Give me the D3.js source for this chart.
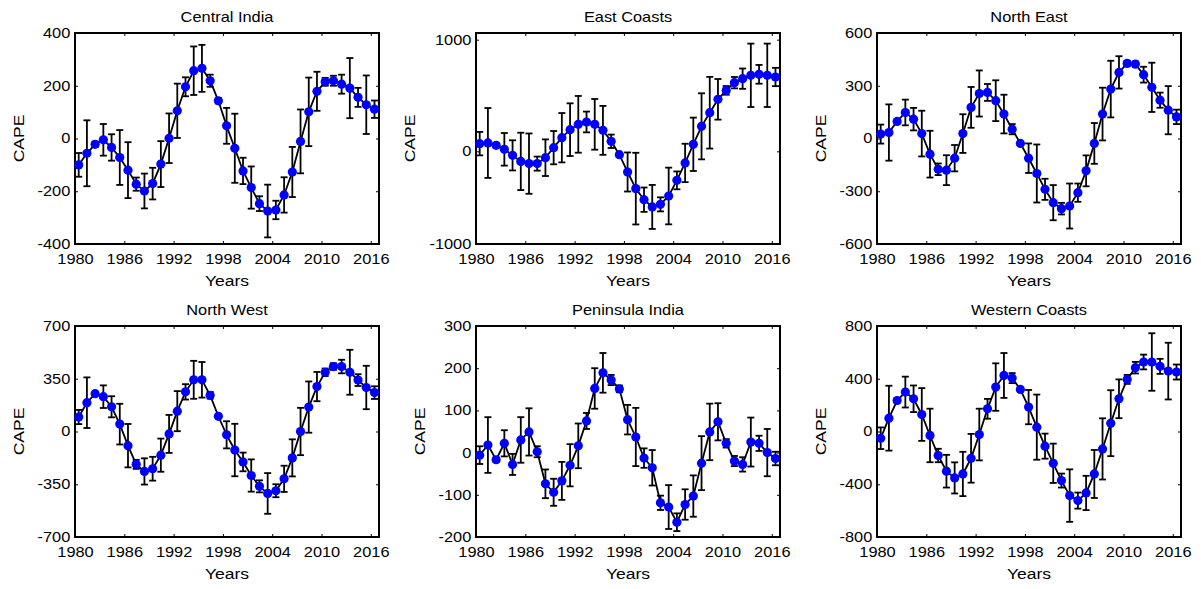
<!DOCTYPE html>
<html lang="en">
<head>
  <meta charset="UTF-8">
  <title>CAPE by region</title>
  <script src="https://d3js.org/d3.v7.min.js"></script>
  <style>
    body { margin: 0; background: #fff; }
    text { font-family: "Liberation Sans", Arial, sans-serif; fill: #000; }
    .tick line { stroke: #000; stroke-width: 1; }
  </style>
</head>
<body>
  <svg id="chart" width="1201" height="589"></svg>
  <script>
    // years 1980..2016, one mean per year
    const years = d3.range(1980, 2017);
    const xTicks = [1980, 1986, 1992, 1998, 2004, 2010, 2016];

    const titles = ["Central India", "East Coasts", "North East", "North West", "Peninsula India", "Western Coasts"];

    const centralIndia = [-100, -56, -22, -5, -34, -72, -120, -173, -199, -171, -97, 1, 105, 196, 257, 266, 219, 143, 48, -37,
      -123, -186, -247, -275, -271, -214, -127, -11, 101, 179, 215, 219, 206, 191, 156, 128, 111];
    const centralIndiaErr = [45, 125, 10, 60, 50, 104, 106, 25, 66, 60, 87, 94, 103, 36, 92, 89, 23, 10, 68, 131,
      50, 80, 28, 100, 35, 67, 95, 121, 130, 74, 15, 19, 36, 114, 36, 111, 33];

    const eastCoasts = [69, 75, 54, 18, -36, -90, -110, -110, -57, 33, 122, 194, 242, 263, 242, 188, 90, -30, -185, -334,
      -433, -498, -475, -400, -260, -104, 63, 224, 346, 466, 546, 615, 651, 681, 690, 681, 666];
    const eastCoastsErr = [105, 313, 20, 146, 135, 257, 270, 63, 164, 149, 221, 236, 254, 93, 227, 219, 60, 15, 175, 321,
      109, 197, 63, 254, 80, 172, 239, 296, 321, 182, 39, 51, 91, 284, 84, 284, 82];

    const northEast = [25, 34, 97, 148, 110, 28, -89, -175, -180, -112, 28, 177, 256, 262, 215, 139, 53, -28, -112, -199,
      -289, -365, -399, -384, -308, -184, -28, 139, 281, 376, 427, 423, 363, 291, 218, 161, 123];
    const northEastErr = [54, 160, 10, 73, 64, 130, 133, 33, 85, 75, 110, 116, 131, 48, 116, 110, 29, 10, 84, 165,
      60, 100, 33, 128, 52, 88, 116, 150, 161, 92, 15, 15, 45, 140, 43, 137, 41];

    const northWest = [96, 191, 251, 231, 164, 49, -94, -218, -265, -247, -157, -16, 135, 263, 343, 343, 240, 101, -22, -123,
      -202, -292, -364, -411, -393, -314, -175, 0, 162, 298, 393, 431, 431, 393, 341, 292, 258];
    const northWestErr = [47, 168, 10, 75, 70, 135, 144, 30, 87, 79, 110, 126, 133, 51, 126, 118, 22, 10, 90, 174,
      62, 107, 40, 135, 43, 87, 123, 157, 170, 97, 25, 22, 45, 149, 39, 144, 42];

    const peninsulaIndia = [-6, 18, -17, 22, -28, 30, 49, 2, -74, -94, -67, -30, 16, 75, 152, 189, 172, 151, 78, 37,
      -13, -36, -119, -129, -165, -123, -103, -25, 49, 73, 22, -20, -28, 25, 22, 0, -14];
    const peninsulaIndiaErr = [21, 66, 5, 31, 25, 54, 56, 13, 34, 32, 45, 50, 53, 19, 48, 47, 12, 8, 35, 69,
      23, 42, 17, 52, 21, 36, 49, 64, 67, 44, 10, 12, 17, 58, 18, 56, 16];

    const westernCoasts = [-51, 101, 235, 299, 248, 129, -30, -182, -301, -352, -322, -203, -23, 172, 337, 425, 405, 319, 185, 33,
      -111, -241, -372, -486, -524, -466, -322, -132, 63, 248, 395, 484, 527, 527, 494, 458, 451];
    const westernCoastsErr = [82, 246, 15, 117, 101, 200, 203, 51, 124, 118, 168, 185, 196, 75, 180, 170, 38, 15, 130, 247,
      95, 149, 53, 199, 61, 130, 182, 232, 250, 147, 34, 44, 56, 218, 57, 215, 57];

    const yDomains = [[-400, 400], [-830, 1060], [-600, 600], [-700, 700], [-200, 300], [-800, 800]];
    const yTicks = [
      [-400, -200, 0, 200, 400],
      [-830, 0, 1000],
      [-600, -300, 0, 300, 600],
      [-700, -350, 0, 350, 700],
      [-200, -100, 0, 100, 200, 300],
      [-800, -400, 0, 400, 800]
    ];
    const yTickLabels = [
      ["-400", "-200", "0", "200", "400"],
      ["-1000", "0", "1000"],
      ["-600", "-300", "0", "300", "600"],
      ["-700", "-350", "0", "350", "700"],
      ["-200", "-100", "0", "100", "200", "300"],
      ["-800", "-400", "0", "400", "800"]
    ];

    const series = [centralIndia, eastCoasts, northEast, northWest, peninsulaIndia, westernCoasts];
    const errors = [centralIndiaErr, eastCoastsErr, northEastErr, northWestErr, peninsulaIndiaErr, westernCoastsErr];

    const svg = d3.select("svg#chart");
    const colLeft = [75, 476, 877];
    const rowTop = [33, 326];
    const boxW = 304;
    const boxH = 211;
    const stretch = 1.17;   // the original text is drawn wide

    series.forEach((vals, i) => {
      const col = i % 3, row = Math.floor(i / 3);
      const g = svg.append("g")
        .attr("transform", `translate(${colLeft[col]},${rowTop[row]})`);

      const x = d3.scaleLinear().domain([1980, 2017]).range([0, boxW]);
      const y = d3.scaleLinear().domain(yDomains[i]).range([boxH, 0]);
      const data = years.map((yr, k) => ({ yr: yr + 0.45, v: vals[k], e: errors[i][k] }));

      // axes, ticks pointing inward on all four sides
      const bottom = g.append("g").attr("transform", `translate(0,${boxH})`)
        .call(d3.axisBottom(x).tickValues(xTicks).tickFormat(d3.format("d"))
          .tickSizeInner(-3).tickSizeOuter(0).tickPadding(10));
      g.append("g")
        .call(d3.axisTop(x).tickValues(xTicks).tickFormat("").tickSizeInner(-3).tickSizeOuter(0));
      const left = g.append("g")
        .call(d3.axisLeft(y).tickValues(yTicks[i]).tickFormat((d, k) => yTickLabels[i][k])
          .tickSizeInner(-3).tickSizeOuter(0).tickPadding(4));
      g.append("g").attr("transform", `translate(${boxW},0)`)
        .call(d3.axisRight(y).tickValues(yTicks[i]).tickFormat("").tickSizeInner(-3).tickSizeOuter(0));
      g.selectAll(".domain").remove();

      bottom.selectAll("text")
        .attr("font-size", 14)
        .attr("font-family", null)
        .attr("transform", `scale(${stretch},1)`);
      left.selectAll("text")
        .attr("font-size", 14)
        .attr("font-family", null)
        .attr("transform", `scale(${stretch},1)`);

      g.append("rect")
        .attr("width", boxW)
        .attr("height", boxH)
        .attr("fill", "none")
        .attr("stroke", "#000")
        .attr("stroke-width", 2);

      // error bars
      const bars = g.append("g").attr("stroke", "#000").attr("stroke-width", 1.8);
      bars.selectAll("line.stem").data(data).join("line")
        .attr("class", "stem")
        .attr("x1", d => x(d.yr)).attr("x2", d => x(d.yr))
        .attr("y1", d => y(d.v - d.e)).attr("y2", d => y(d.v + d.e));
      bars.selectAll("line.capTop").data(data).join("line")
        .attr("class", "capTop")
        .attr("x1", d => x(d.yr) - 3.5).attr("x2", d => x(d.yr) + 3.5)
        .attr("y1", d => y(d.v + d.e)).attr("y2", d => y(d.v + d.e));
      bars.selectAll("line.capBot").data(data).join("line")
        .attr("class", "capBot")
        .attr("x1", d => x(d.yr) - 3.5).attr("x2", d => x(d.yr) + 3.5)
        .attr("y1", d => y(d.v - d.e)).attr("y2", d => y(d.v - d.e));

      // the mean line
      g.append("path")
        .datum(data)
        .attr("fill", "none")
        .attr("stroke", "#000")
        .attr("stroke-width", 1.8)
        .attr("d", d3.line().x(d => x(d.yr)).y(d => y(d.v)));

      g.selectAll("circle").data(data).join("circle")
        .attr("cx", d => x(d.yr))
        .attr("cy", d => y(d.v))
        .attr("r", 4.6)
        .attr("fill", "#0000ff");

      // title and axis labels
      g.append("text")
        .attr("transform", `translate(${boxW / 2},-11) scale(${stretch},1)`)
        .attr("text-anchor", "middle")
        .attr("font-size", 14)
        .text(titles[i]);

      g.append("text")
        .attr("transform", `translate(${boxW / 2},${boxH + 42}) scale(${stretch},1)`)
        .attr("text-anchor", "middle")
        .attr("font-size", 15)
        .text("Years");

      const tickBox = left.node().getBBox();
      g.append("text")
        .attr("transform", `translate(${tickBox.x - 14},${boxH / 2}) rotate(-90) scale(${stretch},1)`)
        .attr("text-anchor", "middle")
        .attr("font-size", 15)
        .text("CAPE");
    });
  </script>
</body>
</html>
